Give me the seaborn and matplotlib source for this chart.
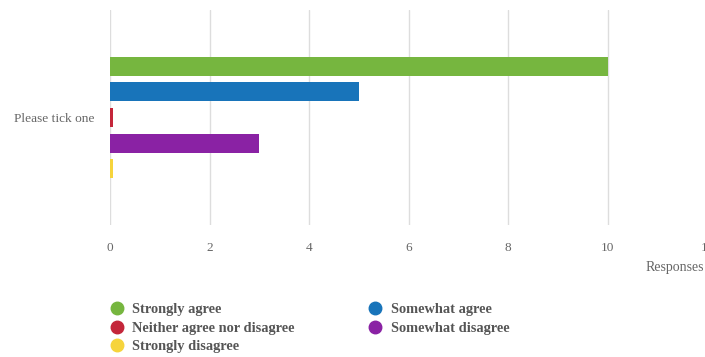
import matplotlib
matplotlib.use("Agg")
import matplotlib.pyplot as plt
from matplotlib.lines import Line2D
import numpy as np
import pandas as pd
import seaborn as sns

question = ["Please tick one"]
answers = ["Strongly agree", "Somewhat agree", "Neither agree nor disagree",
           "Somewhat disagree", "Strongly disagree"]
responses = [10, 5, 0, 3, 0]
colors = ["#76b63f", "#1874ba", "#c4263a", "#8a22a4", "#f6d43c"]
x_ticks = [0, 2, 4, 6, 8, 10, 12]

sns.set_theme(style="white")
plt.rcParams["font.family"] = ["Liberation Serif", "DejaVu Serif"]

df = pd.DataFrame({
    "question": question * len(answers),
    "answer": answers,
    "responses": responses,
})
# zero counts still get a thin stub so the category stays visible
df["shown"] = np.maximum(df["responses"], 0.055)

fig = plt.figure(figsize=(7.05, 3.57), dpi=100)
ax = fig.add_axes([110 / 705, 1 - 225 / 357, 597 / 705, 215 / 357])

sns.barplot(data=df, y="question", x="shown", hue="answer",
            hue_order=answers, palette=colors, orient="h",
            width=0.8, gap=0.26, ax=ax, legend=False, saturation=1,
            linewidth=0)

ax.set_xlim(0, 12)
ax.set_ylim(0.67, -0.67)
ax.set_xticks(x_ticks)
ax.set_xticklabels([str(t) for t in x_ticks])
ax.grid(axis="x", color="#dddddd", linewidth=1)
ax.grid(axis="y", visible=False)
ax.set_axisbelow(True)
for s in ax.spines.values():
    s.set_visible(False)
ax.tick_params(axis="x", length=0, pad=12, labelsize=9.5, labelcolor="#666666")
ax.tick_params(axis="y", length=0, pad=11, labelsize=9.6, labelcolor="#666666")
ax.set_ylabel("")
ax.set_xlabel("")
fig.text(646 / 705, 1 - 268 / 357, "Responses", fontsize=10, color="#666666",
         ha="left", va="center")

legend_order = [0, 2, 4, 1, 3]
handles = [Line2D([], [], marker="o", linestyle="", markersize=9,
                  markerfacecolor=colors[i], markeredgecolor=colors[i])
           for i in legend_order]
labels = [answers[i] for i in legend_order]
fig.legend(handles, labels, ncol=2, loc="upper left",
           bbox_to_anchor=(111 / 705, 1 - 303 / 357), frameon=False,
           prop={"weight": "bold", "size": 10.4}, labelcolor="#555555",
           handletextpad=0.66, labelspacing=0.38, columnspacing=5.2,
           handlelength=0.8, borderpad=0, borderaxespad=0)

fig.savefig("out.png", dpi=100)
